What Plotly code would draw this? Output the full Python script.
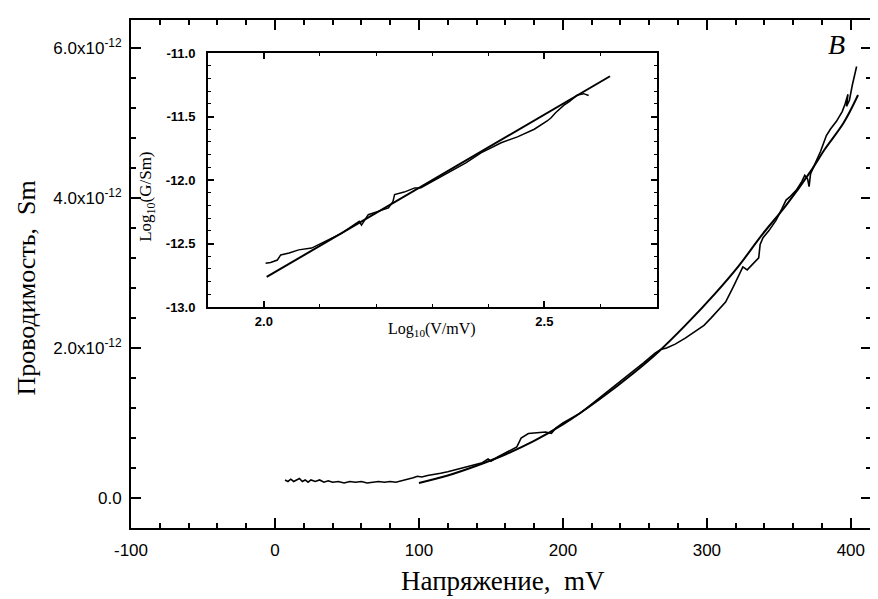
import numpy as np
import plotly.graph_objects as go

# ---------------- data ----------------
# main panel: measured conductance (noisy trace), V in mV, G in units of 1e-12 Sm
v_data = [7, 9, 11, 13, 15, 17, 19, 21, 23, 25, 28, 31, 34, 37, 40, 44, 48, 52, 56, 60,
          64, 68, 72, 76, 80, 84, 88, 92, 96, 99, 102, 106, 110, 115, 120, 126, 132, 138,
          144, 148, 150, 155, 160, 165, 168, 171, 176, 182, 188, 192, 195, 200, 206, 212,
          218, 224, 232, 240, 248, 256, 264, 268, 272, 278, 285, 292, 298, 303, 308, 313,
          318, 322, 325, 328, 331, 334, 336, 337, 339, 343, 348, 352, 355, 358, 362, 366,
          368, 370, 371, 372, 375, 379, 383, 386, 390, 394, 396, 398, 397, 399, 401, 404]
g_data = [0.24, 0.22, 0.25, 0.22, 0.24, 0.26, 0.22, 0.24, 0.21, 0.24, 0.22, 0.24, 0.21, 0.23,
          0.21, 0.22, 0.20, 0.22, 0.21, 0.22, 0.20, 0.21, 0.22, 0.21, 0.22, 0.21, 0.23, 0.24,
          0.27, 0.29, 0.28, 0.30, 0.31, 0.33, 0.35, 0.38, 0.41, 0.44, 0.47, 0.52, 0.49, 0.55,
          0.60, 0.64, 0.68, 0.80, 0.86, 0.87, 0.88, 0.86, 0.93, 1.00, 1.06, 1.13, 1.22, 1.31,
          1.43, 1.55, 1.67, 1.80, 1.93, 1.98, 2.00, 2.05, 2.13, 2.22, 2.30, 2.40, 2.50, 2.61,
          2.80, 2.97, 3.08, 3.04, 3.10, 3.16, 3.20, 3.38, 3.47, 3.56, 3.70, 3.85, 3.97, 4.02,
          4.10, 4.22, 4.30, 4.25, 4.15, 4.32, 4.45, 4.62, 4.83, 4.92, 5.02, 5.15, 5.25, 5.38,
          5.22, 5.30, 5.50, 5.75]

# main panel: fitted smooth curve
v_fit = [100, 120, 140, 160, 180, 200, 225, 250, 267, 285, 306, 322, 338, 355, 373, 382, 395, 405]
g_fit = [0.20, 0.30, 0.43, 0.58, 0.76, 0.98, 1.31, 1.68, 1.96, 2.30, 2.73, 3.09, 3.50, 3.90,
         4.38, 4.65, 5.00, 5.37]

# inset: log10(V/mV) vs log10(G/Sm)
lv_data = [2.003, 2.012, 2.024, 2.030, 2.045, 2.062, 2.085, 2.109, 2.139, 2.165, 2.170, 2.174,
           2.186, 2.205, 2.222, 2.230, 2.233, 2.250, 2.269, 2.280, 2.300, 2.328, 2.360, 2.387,
           2.423, 2.452, 2.482, 2.505, 2.512, 2.520, 2.535, 2.545, 2.559, 2.570, 2.579]
lg_data = [-12.655, -12.650, -12.630, -12.590, -12.575, -12.550, -12.536, -12.484, -12.418,
           -12.339, -12.325, -12.355, -12.273, -12.245, -12.220, -12.170, -12.115, -12.095,
           -12.062, -12.060, -12.010, -11.944, -11.865, -11.786, -11.707, -11.660, -11.600,
           -11.535, -11.510, -11.470, -11.410, -11.380, -11.330, -11.320, -11.335]
lv_fit = [2.005, 2.617]
lg_fit = [-12.763, -11.183]

x_ticks = [-100, 0, 100, 200, 300, 400]
x_ticktext = ["-100", "0", "100", "200", "300", "400"]
y_ticks_e12 = [0, 2, 4, 6]
y_ticktext = ["0.0", "2.0x10<sup>-12</sup>", "4.0x10<sup>-12</sup>", "6.0x10<sup>-12</sup>"]
ix_ticks = [2.0, 2.5]
ix_ticktext = ["2.0", "2.5"]
iy_ticks = [-13.0, -12.5, -12.0, -11.5, -11.0]
iy_ticktext = ["-13.0", "-12.5", "-12.0", "-11.5", "-11.0"]

E12 = 1e-12
SANS = "Liberation Sans, Arial, sans-serif"
SERIF = "Liberation Serif, Times New Roman, serif"

fig = go.Figure()
fig.add_trace(go.Scatter(x=v_data, y=np.array(g_data) * E12, mode="lines",
                         line=dict(color="black", width=1.6), xaxis="x", yaxis="y",
                         showlegend=False))
fig.add_trace(go.Scatter(x=v_fit, y=np.array(g_fit) * E12, mode="lines",
                         line=dict(color="black", width=2.0, shape="spline"), xaxis="x",
                         yaxis="y", showlegend=False))
fig.add_trace(go.Scatter(x=lv_data, y=lg_data, mode="lines",
                         line=dict(color="black", width=1.5), xaxis="x2", yaxis="y2",
                         showlegend=False))
fig.add_trace(go.Scatter(x=lv_fit, y=lg_fit, mode="lines",
                         line=dict(color="black", width=2.0), xaxis="x2", yaxis="y2",
                         showlegend=False))

main_axis = dict(showline=True, linecolor="black", linewidth=2, mirror="allticks",
                 ticks="inside", ticklen=10, tickwidth=2, tickcolor="black",
                 showgrid=False, zeroline=False)

# the page body adds an 8 px margin, so the figure is sized to fit inside the window
fig.update_layout(
    width=870, height=591,
    margin=dict(l=123, r=5, t=12, b=71),
    paper_bgcolor="white", plot_bgcolor="white",
    xaxis=dict(**main_axis, range=[-100, 414], tickvals=x_ticks, ticktext=x_ticktext,
               tickfont=dict(family=SANS, size=17, color="black"),
               ticklabelstandoff=6,
               minor=dict(dtick=20, tick0=0, ticks="inside", ticklen=5, tickwidth=1.5,
                          tickcolor="black", showgrid=False)),
    yaxis=dict(**main_axis, range=[-0.4 * E12, 6.37 * E12],
               tickvals=[t * E12 for t in y_ticks_e12], ticktext=y_ticktext,
               tickfont=dict(family=SANS, size=17, color="black"),
               ticklabelstandoff=4,
               minor=dict(dtick=0.4 * E12, tick0=0, ticks="inside", ticklen=5,
                          tickwidth=1.5, tickcolor="black", showgrid=False)),
    xaxis2=dict(domain=[0.1038, 0.7102], anchor="y2", range=[1.9, 2.7],
                showline=True, linecolor="black", linewidth=1.5, mirror="allticks",
                ticks="inside", ticklen=6, tickwidth=1.5, tickcolor="black",
                showgrid=False, zeroline=False, tickvals=ix_ticks, ticktext=ix_ticktext,
                tickfont=dict(family=SANS, size=13, color="black", weight="bold"),
                ticklabelstandoff=2,
                minor=dict(dtick=0.1, tick0=2.0, ticks="inside", ticklen=3, tickwidth=1.2,
                           tickcolor="black", showgrid=False)),
    yaxis2=dict(domain=[0.435, 0.935], anchor="x2", range=[-13.0, -11.0],
                showline=True, linecolor="black", linewidth=1.5, mirror="allticks",
                ticks="inside", ticklen=6, tickwidth=1.5, tickcolor="black",
                showgrid=False, zeroline=False, tickvals=iy_ticks, ticktext=iy_ticktext,
                tickfont=dict(family=SANS, size=13, color="black", weight="bold"),
                ticklabelstandoff=8,
                minor=dict(dtick=0.1, tick0=-13.0, ticks="inside", ticklen=3, tickwidth=1.2,
                           tickcolor="black", showgrid=False)),
    annotations=[
        dict(text="Напряжение,  mV", xref="paper", yref="paper", x=0.503, y=-0.104,
             showarrow=False, xanchor="center", yanchor="middle",
             font=dict(family=SERIF, size=27, color="black")),
        dict(text="Проводимость,  Sm", xref="paper", yref="paper", x=-0.1415, y=0.472,
             showarrow=False, xanchor="center", yanchor="middle", textangle=-90,
             font=dict(family=SERIF, size=26, color="black")),
        dict(text="Log<sub>10</sub>(V/mV)", xref="paper", yref="paper", x=0.407, y=0.39,
             showarrow=False, xanchor="center", yanchor="middle",
             font=dict(family=SERIF, size=16, color="black")),
        dict(text="Log<sub>10</sub>(G/Sm)", xref="paper", yref="paper", x=0.0216, y=0.652,
             showarrow=False, xanchor="center", yanchor="middle", textangle=-90,
             font=dict(family=SERIF, size=17, color="black")),
        dict(text="<i>В</i>", xref="paper", yref="paper", x=0.953, y=0.951,
             showarrow=False, xanchor="center", yanchor="middle",
             font=dict(family=SERIF, size=28, color="black")),
    ],
)

fig.write_html("out.html")
